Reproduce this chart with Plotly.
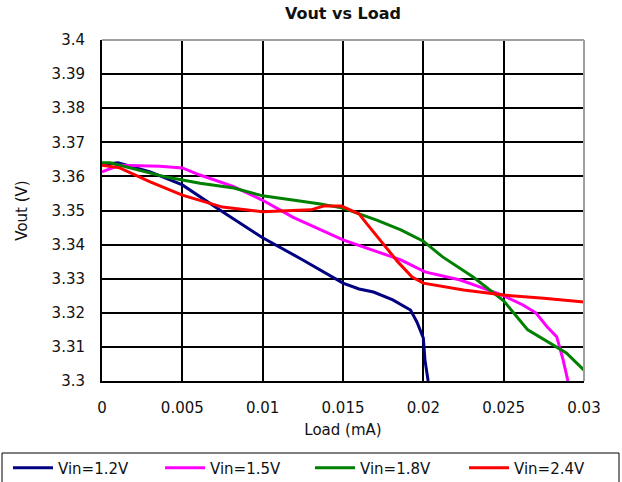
import plotly.graph_objects as go

# Vout (V) against load (mA)
load_12 = [0, 0.001, 0.003, 0.004, 0.005, 0.0075, 0.01, 0.0125, 0.015, 0.016,
           0.0169, 0.0181, 0.0192, 0.0196, 0.02, 0.0201, 0.0203]
vout_12 = [3.3635, 3.364, 3.3613, 3.3595, 3.3575, 3.3496, 3.342, 3.3355, 3.3287, 3.327,
           3.3261, 3.3238, 3.3208, 3.3173, 3.3126, 3.3062, 3.300]

load_15 = [0, 0.0011, 0.0036, 0.005, 0.0061, 0.0082, 0.01, 0.0119, 0.015, 0.0186,
           0.0201, 0.0223, 0.0235, 0.025, 0.0262, 0.027, 0.0277, 0.0283, 0.0287, 0.029]
vout_15 = [3.3613, 3.3633, 3.363, 3.3625, 3.3604, 3.357, 3.353, 3.348, 3.3414, 3.3355,
           3.332, 3.3296, 3.3276, 3.325, 3.3223, 3.32, 3.3159, 3.313, 3.3062, 3.300]

load_18 = [0, 0.0005, 0.004, 0.0061, 0.0082, 0.01, 0.0123, 0.0136, 0.015, 0.016,
           0.0171, 0.0186, 0.02, 0.0212, 0.0231, 0.025, 0.0265, 0.0289, 0.03]
vout_18 = [3.364, 3.364, 3.3598, 3.358, 3.3566, 3.3543, 3.3528, 3.3519, 3.3507, 3.349,
           3.3472, 3.3443, 3.341, 3.3364, 3.3305, 3.3235, 3.315, 3.3082, 3.3032]

load_24 = [0, 0.0011, 0.003, 0.005, 0.0075, 0.01, 0.013, 0.0138, 0.0149, 0.016,
           0.0165, 0.0173, 0.0184, 0.0193, 0.02, 0.0225, 0.025, 0.0275, 0.03]
vout_24 = [3.3633, 3.3625, 3.3584, 3.3545, 3.351, 3.3496, 3.3502, 3.3513, 3.3513, 3.349,
           3.346, 3.3414, 3.335, 3.3305, 3.3287, 3.3267, 3.3252, 3.3243, 3.3232]

series = [
    ("Vin=1.2V", load_12, vout_12, "#000080"),
    ("Vin=1.5V", load_15, vout_15, "#FF00FF"),
    ("Vin=1.8V", load_18, vout_18, "#008000"),
    ("Vin=2.4V", load_24, vout_24, "#FF0000"),
]

x_ticks = [0, 0.005, 0.01, 0.015, 0.02, 0.025, 0.03]
x_labels = ["0", "0.005", "0.01", "0.015", "0.02", "0.025", "0.03"]
y_ticks = [3.3, 3.31, 3.32, 3.33, 3.34, 3.35, 3.36, 3.37, 3.38, 3.39, 3.4]
y_labels = ["3.3", "3.31", "3.32", "3.33", "3.34", "3.35", "3.36", "3.37", "3.38", "3.39", "3.4"]

FONT = "DejaVu Sans"
W, H = 622, 482
L, R, T, B = 102, 38, 40, 101

# left pixel of each legend entry along the bottom strip
legend_left_px = [8, 160, 310, 464]

fig = go.Figure()
legend_names = ["legend", "legend2", "legend3", "legend4"]
for (name, xs, ys, color), lg in zip(series, legend_names):
    fig.add_trace(go.Scatter(
        x=xs, y=ys,
        mode="lines",
        name=name,
        legend=lg,
        line=dict(color=color, width=3),
    ))

legend_style = dict(
    orientation="h",
    xref="container", yref="container",
    xanchor="left", yanchor="middle",
    y=(H - 468) / H,
    borderwidth=0,
    bgcolor="rgba(0,0,0,0)",
    font=dict(family=FONT, size=15, color="#111111"),
    itemwidth=40,
)

fig.update_layout(
    width=W,
    height=H,
    paper_bgcolor="white",
    plot_bgcolor="white",
    font=dict(family=FONT, size=15, color="#111111"),
    margin=dict(l=L, r=R, t=T, b=B, autoexpand=False),
    title=dict(
        text="<b>Vout vs Load</b>",
        font=dict(family=FONT, size=16, color="#111111"),
        x=(L + W - R) / 2 / W, xanchor="center",
        y=1 - 13 / H, yanchor="middle",
    ),
    xaxis=dict(
        range=[0, 0.03],
        tickvals=x_ticks,
        ticktext=x_labels,
        showgrid=True,
        gridcolor="black",
        gridwidth=1.5,
        zeroline=False,
        showline=True,
        linecolor="black",
        linewidth=2,
        ticks="",
        ticklabelstandoff=12,
        title=dict(text="Load (mA)", standoff=8, font=dict(size=15)),
    ),
    yaxis=dict(
        range=[3.3, 3.4],
        tickvals=y_ticks,
        ticktext=y_labels,
        showgrid=True,
        gridcolor="black",
        gridwidth=1.5,
        zeroline=False,
        showline=True,
        linecolor="black",
        linewidth=2,
        ticks="",
        ticklabelstandoff=12,
        title=dict(text="Vout (V)", standoff=20, font=dict(size=15)),
    ),
    showlegend=True,
)
for lg, px in zip(legend_names, legend_left_px):
    fig.update_layout({lg: dict(legend_style, x=px / W)})

# grey top and right border of the plot frame
fig.add_shape(type="line", xref="paper", yref="paper", x0=0, x1=1, y0=1, y1=1,
              line=dict(color="#A0A0A0", width=2), layer="above")
fig.add_shape(type="line", xref="paper", yref="paper", x0=1, x1=1, y0=0, y1=1,
              line=dict(color="#A0A0A0", width=2), layer="above")
# box round the legend strip
pw, ph = W - L - R, H - T - B
fig.add_shape(type="rect", xref="paper", yref="paper",
              x0=(2 - L) / pw, x1=(619 - L) / pw,
              y0=(H - B - 490) / ph, y1=(H - B - 453) / ph,
              line=dict(color="black", width=1), fillcolor="rgba(0,0,0,0)", layer="above")

fig.write_html("out.html", config={"displayModeBar": False},
               post_script="document.body.style.margin='0px';")
